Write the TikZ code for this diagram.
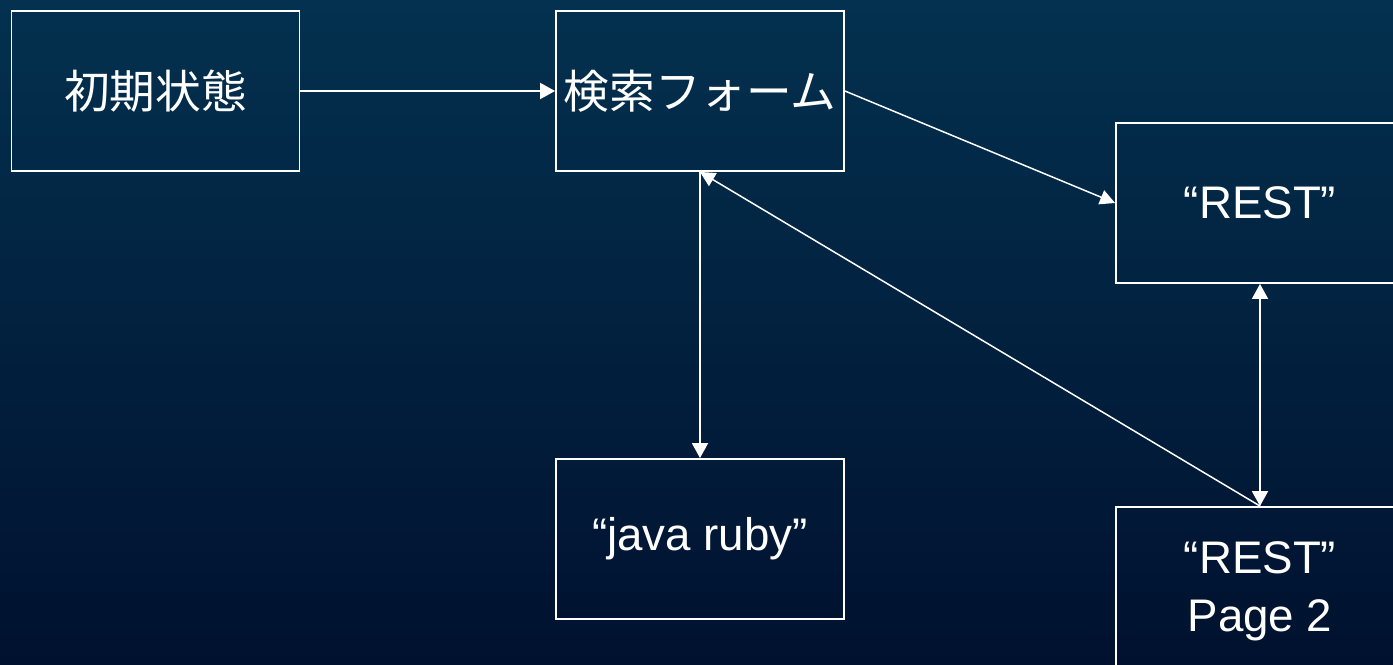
\documentclass[tikz,border=0pt]{standalone}
\usepackage{fontspec}
\setmainfont{Liberation Sans}
\newfontfamily\jafont{Noto Sans CJK JP}
\usetikzlibrary{arrows.meta}
\definecolor{bgtop}{HTML}{03314F}
\definecolor{bgbot}{HTML}{00112F}
\tikzset{
  state/.style ={draw=white, line width=1.1pt,
                 minimum width=5.76cm, minimum height=3.2cm,
                 align=center, text=white, inner sep=0pt,
                 font=\fontsize{26}{33}\selectfont},
  jstate/.style={state, font=\fontsize{26}{33}\selectfont\jafont},
  arr/.style   ={-{Triangle[length=0.3cm,width=0.32cm]}, draw=white,
                 line width=1.1pt},
  dblarr/.style={{Triangle[length=0.3cm,width=0.32cm]}-{Triangle[length=0.3cm,width=0.32cm]},
                 draw=white, line width=1.1pt},
  thinarr/.style={-{Triangle[length=0.3cm,width=0.3cm]}, draw=white,
                 line width=0.85pt},
}
\begin{document}
\begin{tikzpicture}[x=0.02cm,y=-0.02cm]
  \useasboundingbox (0,0) rectangle (1393,665);
  \shade[top color=bgtop, bottom color=bgbot] (0,0) rectangle (1393,665);
  \clip (0,0) rectangle (1393,665);

  \node[jstate] (init)   at (155.5, 91) {初期状態};
  \node[jstate] (form)   at (700, 91)   {検索フォーム};
  \node[state]  (rest)   at (1260,203)  {“REST”};
  \node[state,text depth=0pt] (restp2) at (1260,587) {“REST”\\Page 2};
  \node[state]  (query)  at (700, 539)  {“java ruby”};

  \draw[arr] (init.east) -- (form.west);
  \draw[thinarr] (form.east) -- (rest.west);
  \draw[arr] (form.south) -- (query.north);
  \draw[dblarr] (rest.south) -- (restp2.north);
  \draw[thinarr] (restp2.north) -- (form.south);
\end{tikzpicture}
\end{document}
